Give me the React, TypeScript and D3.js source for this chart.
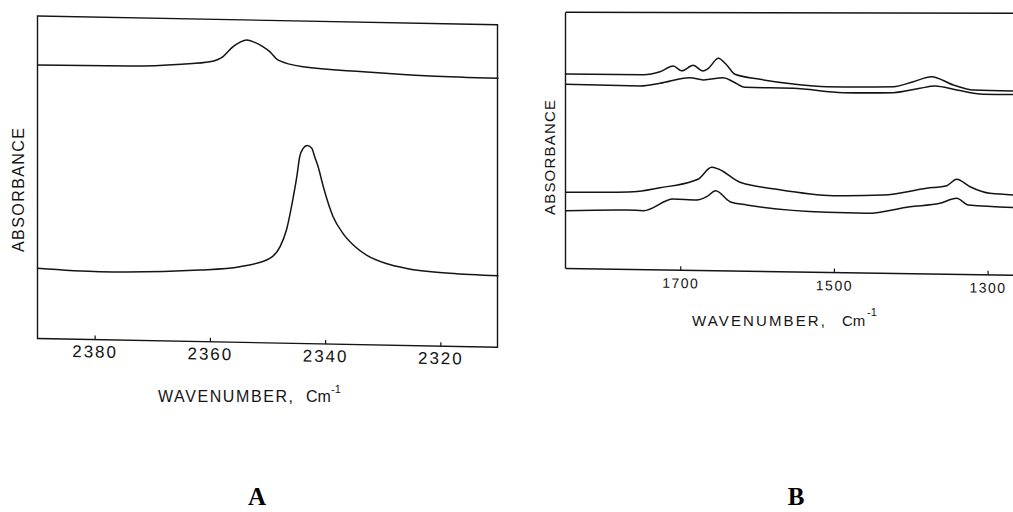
import React from 'react';
import * as d3 from 'd3';

// ---------- Panel A data (CO2 region) ----------
const A_TICKS = [2380, 2360, 2340, 2320];
const A_UPPER_WN = [2390, 2374, 2365, 2360.1, 2357.8, 2356.1, 2354.9, 2353.7, 2352.3, 2350.9, 2349.7, 2348.3, 2343.9, 2333.5, 2321.9, 2310];
const A_UPPER_ABS = [0.848, 0.85, 0.859, 0.868, 0.885, 0.916, 0.93, 0.938, 0.931, 0.918, 0.903, 0.878, 0.858, 0.846, 0.837, 0.834];
const A_LOWER_WN = [2390, 2379.2, 2361.8, 2354.9, 2349.7, 2347.9, 2346.8, 2345.6, 2345.0, 2344.5, 2343.9, 2343.2, 2342.4, 2341.9, 2341.3, 2340.4, 2338.7, 2337.0, 2335.2, 2332.9, 2329.5, 2325.95, 2318.45, 2310];
const A_LOWER_ABS = [0.218, 0.211, 0.222, 0.2345, 0.262, 0.299, 0.351, 0.455, 0.517, 0.579, 0.605, 0.614, 0.606, 0.58, 0.549, 0.4875, 0.395, 0.344, 0.3085, 0.278, 0.253, 0.239, 0.2265, 0.2216];

// ---------- Panel B data (1850-1250 region) ----------
const B_TICKS = [1700, 1500, 1300];
const B1_WN = [1850, 1748.7, 1727, 1709.7, 1698.8, 1683.7, 1671.4, 1664.1, 1651.1, 1640.2, 1629.4, 1596.8, 1553.5, 1510, 1423.3, 1397.3, 1373.4, 1345.2, 1319.2, 1250];
const B1_ABS = [0.76, 0.7616, 0.774, 0.797, 0.779, 0.801, 0.7795, 0.79, 0.83, 0.804, 0.7685, 0.7504, 0.734, 0.7254, 0.7293, 0.75, 0.7707, 0.7395, 0.721, 0.719];
const B2_WN = [1850, 1753, 1727, 1688, 1670.6, 1644.6, 1631.6, 1616.4, 1553.5, 1488.4, 1423.3, 1388.6, 1369.1, 1340.8, 1306.2, 1250];
const B2_ABS = [0.7195, 0.7172, 0.729, 0.7526, 0.7444, 0.7545, 0.7395, 0.7183, 0.7172, 0.703, 0.706, 0.7246, 0.7345, 0.72, 0.705, 0.7067];
const B3_WN = [1850, 1761.8, 1727, 1683.7, 1677.1, 1659.7, 1651.1, 1622.9, 1575.1, 1501.4, 1436.4, 1379.9, 1353.8, 1340.8, 1323.5, 1297.5, 1250];
const B3_ABS = [0.2977, 0.304, 0.3211, 0.3493, 0.3574, 0.4039, 0.3976, 0.3469, 0.3217, 0.3, 0.3057, 0.3344, 0.3457, 0.3714, 0.3432, 0.3186, 0.312];
const B4_WN = [1850, 1770.3, 1748.7, 1709.7, 1679.2, 1666.2, 1654.5, 1635.9, 1614.2, 1510, 1458, 1401.6, 1362.6, 1340.8, 1325.7, 1250];
const B4_ABS = [0.2258, 0.2321, 0.2303, 0.2778, 0.2752, 0.2887, 0.3127, 0.2705, 0.2586, 0.2348, 0.2332, 0.2616, 0.2766, 0.2971, 0.2716, 0.263];

const INK = '#141414';
const SANS = '"Liberation Sans", Arial, sans-serif';
const SERIF = '"Liberation Serif", "Times New Roman", serif';

function zip(wn: number[], ab: number[]): [number, number][] {
  return wn.map((w, i) => [w, ab[i]] as [number, number]);
}

export default function App() {
  // Panel A geometry
  const aX0 = 38;
  const aTop = 16;
  const aBottom = 338.5;
  const aK = 0.019;
  const xA = d3.scaleLinear().domain([2390, 2310]).range([37.5, 498.5]);
  const yA = d3.scaleLinear().domain([0, 1]).range([aBottom, aTop]);
  const lineA = d3
    .line<[number, number]>()
    .x((d) => xA(d[0]))
    .y((d) => yA(d[1]))
    .curve(d3.curveMonotoneX);

  // Panel B geometry
  const bX0 = 566;
  const bTop = 12.5;
  const bBottom = 268.5;
  const bK = 0.015;
  const xB = d3.scaleLinear().domain([1850, 1250]).range([565.5, 565.5 + 600 * 0.7683]);
  const yB = d3.scaleLinear().domain([0, 1]).range([bBottom, bTop]);
  const lineB = d3
    .line<[number, number]>()
    .x((d) => xB(d[0]))
    .y((d) => yB(d[1]))
    .curve(d3.curveMonotoneX);

  const aSeries = [zip(A_UPPER_WN, A_UPPER_ABS), zip(A_LOWER_WN, A_LOWER_ABS)];
  const bSeries = [zip(B1_WN, B1_ABS), zip(B2_WN, B2_ABS), zip(B3_WN, B3_ABS), zip(B4_WN, B4_ABS)];

  return (
    <svg
      width={1013}
      height={512}
      viewBox="0 0 1013 512"
      style={{ position: 'absolute', left: 0, top: 0, background: '#fff', display: 'block' }}
    >
      <rect x={0} y={0} width={1013} height={512} fill="#fff" />

      {/* ---------------- Panel A ---------------- */}
      <g transform={`matrix(1,${aK},0,1,0,${-aK * aX0})`}>
        <rect
          x={xA(2390)}
          y={aTop}
          width={xA(2310) - xA(2390) - 1}
          height={aBottom - aTop}
          fill="none"
          stroke={INK}
          strokeWidth={1.4}
        />
        {A_TICKS.map((t) => (
          <g key={t}>
            <line x1={xA(t)} x2={xA(t)} y1={aBottom} y2={aBottom - 4} stroke={INK} strokeWidth={1.2} />
            <text
              x={xA(t)}
              y={aBottom + 12}
              dy="0.35em"
              textAnchor="middle"
              fontFamily={SANS}
              fontSize={17}
              letterSpacing={2}
              fill={INK}
            >
              {t}
            </text>
          </g>
        ))}
        {aSeries.map((s, i) => (
          <path key={i} d={lineA(s) || ''} fill="none" stroke={INK} strokeWidth={1.5} strokeLinejoin="round" />
        ))}
      </g>
      <text
        transform="translate(24,190) rotate(-90)"
        textAnchor="middle"
        fontFamily={SANS}
        fontSize={16}
        textLength={124}
        lengthAdjust="spacing"
        fill={INK}
      >
        ABSORBANCE
      </text>
      <text x={158} y={402} fontFamily={SANS} fontSize={16} textLength={135} lengthAdjust="spacing" fill={INK}>
        WAVENUMBER,
      </text>
      <text x={306} y={402} fontFamily={SANS} fontSize={16} fill={INK}>
        Cm
      </text>
      <text x={331} y={393} fontFamily={SANS} fontSize={11} fill={INK}>
        -1
      </text>

      {/* ---------------- Panel B ---------------- */}
      <line x1={xB(1850)} x2={1013} y1={12.3} y2={13.3} stroke={INK} strokeWidth={1.4} />
      <g transform={`matrix(1,${bK},0,1,0,${-bK * bX0})`}>
        <line x1={xB(1850)} x2={xB(1850)} y1={bTop} y2={bBottom} stroke={INK} strokeWidth={1.4} />
        <line x1={xB(1850)} x2={xB(1250)} y1={bBottom} y2={bBottom} stroke={INK} strokeWidth={1.4} />
        {B_TICKS.map((t) => (
          <g key={t}>
            <line x1={xB(t)} x2={xB(t)} y1={bBottom} y2={bBottom - 4} stroke={INK} strokeWidth={1.2} />
            <text
              x={xB(t)}
              y={bBottom + 13}
              dy="0.35em"
              textAnchor="middle"
              fontFamily={SANS}
              fontSize={14}
              letterSpacing={1.5}
              fill={INK}
            >
              {t}
            </text>
          </g>
        ))}
        {bSeries.map((s, i) => (
          <path key={i} d={lineB(s) || ''} fill="none" stroke={INK} strokeWidth={1.5} strokeLinejoin="round" />
        ))}
      </g>
      <text
        transform="translate(555,157.5) rotate(-90)"
        textAnchor="middle"
        fontFamily={SANS}
        fontSize={15}
        textLength={115}
        lengthAdjust="spacing"
        fill={INK}
      >
        ABSORBANCE
      </text>
      <text x={692} y={326} fontFamily={SANS} fontSize={15} textLength={133} lengthAdjust="spacing" fill={INK}>
        WAVENUMBER,
      </text>
      <text x={842} y={326} fontFamily={SANS} fontSize={15} fill={INK}>
        Cm
      </text>
      <text x={867} y={316} fontFamily={SANS} fontSize={11} fill={INK}>
        -1
      </text>

      {/* Panel letters */}
      <text x={257} y={505} textAnchor="middle" fontFamily={SERIF} fontWeight="bold" fontSize={25} fill="#000">
        A
      </text>
      <text x={796} y={505} textAnchor="middle" fontFamily={SERIF} fontWeight="bold" fontSize={25} fill="#000">
        B
      </text>
    </svg>
  );
}
